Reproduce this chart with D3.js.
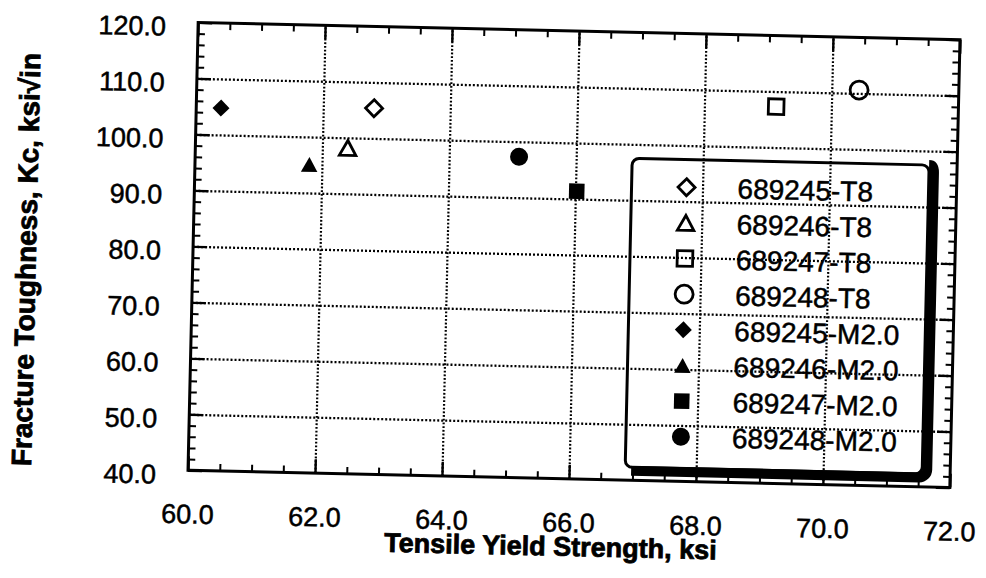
<!DOCTYPE html>
<html>
<head>
<meta charset="utf-8">
<script src="https://cdn.jsdelivr.net/npm/d3@7"></script>
<style>
  html, body { margin: 0; padding: 0; background: #fff; }
  svg { display: block; font-family: "Liberation Sans", Arial, Helvetica, sans-serif; }
</style>
</head>
<body>
<svg id="chart" width="986" height="578"></svg>
<script>
// Specimens: yield strength (ksi) vs. fracture toughness Kc (ksi·√in)
const specimens     = ["689245-T8", "689246-T8", "689247-T8", "689248-T8",
                       "689245-M2.0", "689246-M2.0", "689247-M2.0", "689248-M2.0"];
const yieldStrength = [62.80, 62.40, 69.13, 70.43, 60.39, 61.80, 66.02, 65.10];
const toughness     = [105.4, 98.2, 107.3, 110.6, 104.8, 95.1, 91.4, 97.3];
const markerShapes  = ["diamond", "triangle", "square", "circle",
                       "diamond", "triangle", "square", "circle"];
const markerFilled  = [false, false, false, false, true, true, true, true];

const xTickValues = [60, 62, 64, 66, 68, 70, 72];
const yTickValues = [40, 50, 60, 70, 80, 90, 100, 110, 120];
const xTitle = "Tensile Yield Strength, ksi";
const yTitle = "Fracture Toughness, Kc, ksi\u221Ain";

// Layout
const plot = { left: 193, top: 31, width: 762, height: 448 };
const sheetTilt = 1.3;              // degrees, whole sheet sits slightly askew
const tiltCenter = [574, 255];
const inkStroke = 0.5;              // slight thickening of glyph outlines

const svg = d3.select("#chart");
const root = svg.append("g")
  .attr("transform", `rotate(${sheetTilt},${tiltCenter[0]},${tiltCenter[1]})`);

const x = d3.scaleLinear().domain([60, 72]).range([plot.left, plot.left + plot.width]);
const y = d3.scaleLinear().domain([40, 120]).range([plot.top + plot.height, plot.top]);

const fmt = d3.format(".1f");
const xMinor = d3.range(60, 72.001, 0.5).filter(v => !xTickValues.includes(v));
const yMinor = d3.range(40, 120.001, 2).filter(v => !yTickValues.includes(v));

const noDomain = g => g.select(".domain").remove();

// Dotted grid at the inner major ticks
root.append("g")
  .attr("transform", `translate(0,${plot.top + plot.height})`)
  .call(d3.axisBottom(x).tickValues(xTickValues.slice(1, -1)).tickSize(-plot.height).tickFormat(""))
  .call(noDomain)
  .selectAll("line")
  .attr("stroke", "#000").attr("stroke-width", 2.2).attr("stroke-dasharray", "1.8,1.9");

root.append("g")
  .attr("transform", `translate(${plot.left},0)`)
  .call(d3.axisLeft(y).tickValues(yTickValues.slice(1, -1)).tickSize(-plot.width).tickFormat(""))
  .call(noDomain)
  .selectAll("line")
  .attr("stroke", "#000").attr("stroke-width", 2.3).attr("stroke-dasharray", "2,2");

// Axes with inward ticks on all four sides
function styleTicks(g, w) {
  g.selectAll(".tick line").attr("stroke", "#000").attr("stroke-width", w);
}
function styleLabels(g) {
  g.selectAll("text").attr("font-size", 27).attr("fill", "#000")
    .attr("stroke", "#000").attr("stroke-width", inkStroke)
    .attr("font-family", "'Liberation Sans', Arial, sans-serif");
}

const axisBottomG = root.append("g")
  .attr("transform", `translate(0,${plot.top + plot.height})`)
  .call(d3.axisBottom(x).tickValues(xTickValues).tickSizeInner(-14).tickSizeOuter(0)
          .tickPadding(34).tickFormat(fmt))
  .call(noDomain);
styleTicks(axisBottomG, 2.4);
styleLabels(axisBottomG);

const axisBottomMinorG = root.append("g")
  .attr("transform", `translate(0,${plot.top + plot.height})`)
  .call(d3.axisBottom(x).tickValues(xMinor).tickSizeInner(-7).tickSizeOuter(0).tickFormat(""))
  .call(noDomain);
styleTicks(axisBottomMinorG, 2);

const axisTopG = root.append("g")
  .attr("transform", `translate(0,${plot.top})`)
  .call(d3.axisTop(x).tickValues(xTickValues).tickSizeInner(-14).tickSizeOuter(0).tickFormat(""))
  .call(noDomain);
styleTicks(axisTopG, 2.4);
const axisTopMinorG = root.append("g")
  .attr("transform", `translate(0,${plot.top})`)
  .call(d3.axisTop(x).tickValues(xMinor).tickSizeInner(-7).tickSizeOuter(0).tickFormat(""))
  .call(noDomain);
styleTicks(axisTopMinorG, 2);

const axisLeftG = root.append("g")
  .attr("transform", `translate(${plot.left},0)`)
  .call(d3.axisLeft(y).tickValues(yTickValues).tickSizeInner(-14).tickSizeOuter(0)
          .tickPadding(32).tickFormat(fmt))
  .call(noDomain);
styleTicks(axisLeftG, 2.4);
styleLabels(axisLeftG);
axisLeftG.selectAll("text").attr("dy", "0.5em");

const axisLeftMinorG = root.append("g")
  .attr("transform", `translate(${plot.left},0)`)
  .call(d3.axisLeft(y).tickValues(yMinor).tickSizeInner(-7).tickSizeOuter(0).tickFormat(""))
  .call(noDomain);
styleTicks(axisLeftMinorG, 2);

const axisRightG = root.append("g")
  .attr("transform", `translate(${plot.left + plot.width},0)`)
  .call(d3.axisRight(y).tickValues(yTickValues).tickSizeInner(-14).tickSizeOuter(0).tickFormat(""))
  .call(noDomain);
styleTicks(axisRightG, 2.4);
const axisRightMinorG = root.append("g")
  .attr("transform", `translate(${plot.left + plot.width},0)`)
  .call(d3.axisRight(y).tickValues(yMinor).tickSizeInner(-7).tickSizeOuter(0).tickFormat(""))
  .call(noDomain);
styleTicks(axisRightMinorG, 2);

// Plot frame
root.append("rect")
  .attr("x", plot.left).attr("y", plot.top)
  .attr("width", plot.width).attr("height", plot.height)
  .attr("fill", "none").attr("stroke", "#000").attr("stroke-width", 3);

// Marker shapes
const diamondType = {
  draw(ctx, size) {
    const r = Math.sqrt(size / 2);
    ctx.moveTo(0, -r); ctx.lineTo(r, 0); ctx.lineTo(0, r); ctx.lineTo(-r, 0); ctx.closePath();
  }
};
const triangleType = {
  draw(ctx, size) {
    const s = Math.sqrt(size), h = s * 0.9;
    ctx.moveTo(0, -h / 2); ctx.lineTo(s / 2, h / 2); ctx.lineTo(-s / 2, h / 2); ctx.closePath();
  }
};
const shapeTypes = {
  diamond:  { type: diamondType,      size: 2 * 8.5 * 8.5 },
  triangle: { type: triangleType,     size: 16.5 * 16.5 },
  square:   { type: d3.symbolSquare,  size: 15.5 * 15.5 },
  circle:   { type: d3.symbolCircle,  size: Math.PI * 9 * 9 }
};
function markerPath(i) {
  const s = shapeTypes[markerShapes[i]];
  return d3.symbol().type(s.type).size(s.size)();
}
function styleMarker(sel) {
  sel.attr("fill", i => markerFilled[i] ? "#000" : "none")
     .attr("stroke", i => markerFilled[i] ? "none" : "#000")
     .attr("stroke-width", 2.8)
     .attr("stroke-linejoin", "miter");
}

// Data points
const idx = d3.range(specimens.length);
root.append("g").selectAll("path")
  .data(idx)
  .join("path")
  .attr("d", i => markerPath(i))
  .attr("transform", i => `translate(${x(yieldStrength[i])},${y(toughness[i])})`)
  .call(styleMarker);

// Legend (open box, grid shows through, heavy drop shadow on right/bottom)
const legend = { x: 630, y: 157, w: 297, h: 309, symX: 685, textX: 736, row0: 184.7, rowStep: 35.65 };
const lg = root.append("g");
lg.append("rect")
  .attr("x", legend.x).attr("y", legend.y).attr("width", legend.w).attr("height", legend.h)
  .attr("rx", 7).attr("fill", "none").attr("stroke", "#000").attr("stroke-width", 3);
const sx = legend.x + legend.w + 5, sy = legend.y + legend.h + 3.5;
lg.append("path")
  .attr("d", `M${sx - 5},${legend.y} Q${sx},${legend.y} ${sx},${legend.y + 8} `
           + `L${sx},${sy - 8} A8,8 0 0 1 ${sx - 8},${sy} L${legend.x + 6},${sy}`)
  .attr("fill", "none").attr("stroke", "#000").attr("stroke-width", 10);

const rows = lg.selectAll("g.row").data(idx).join("g")
  .attr("class", "row")
  .attr("transform", i => `translate(0,${legend.row0 + i * legend.rowStep})`);
rows.append("path")
  .attr("d", i => markerPath(i))
  .attr("transform", `translate(${legend.symX},0)`)
  .call(styleMarker);
rows.append("text")
  .attr("x", legend.textX).attr("dy", "0.36em")
  .attr("font-size", 28).attr("fill", "#000")
  .attr("stroke", "#000").attr("stroke-width", inkStroke)
  .text(i => specimens[i]);

// Axis titles
root.append("text")
  .attr("x", 557).attr("y", 556)
  .attr("text-anchor", "middle")
  .attr("font-size", 27).attr("font-weight", "bold").attr("fill", "#000")
  .attr("stroke", "#000").attr("stroke-width", 0.8)
  .text(xTitle);
root.append("text")
  .attr("transform", "translate(36,272) rotate(-90)")
  .attr("text-anchor", "middle")
  .attr("font-size", 28).attr("font-weight", "bold").attr("fill", "#000")
  .attr("stroke", "#000").attr("stroke-width", 0.8)
  .text(yTitle);
</script>
</body>
</html>
